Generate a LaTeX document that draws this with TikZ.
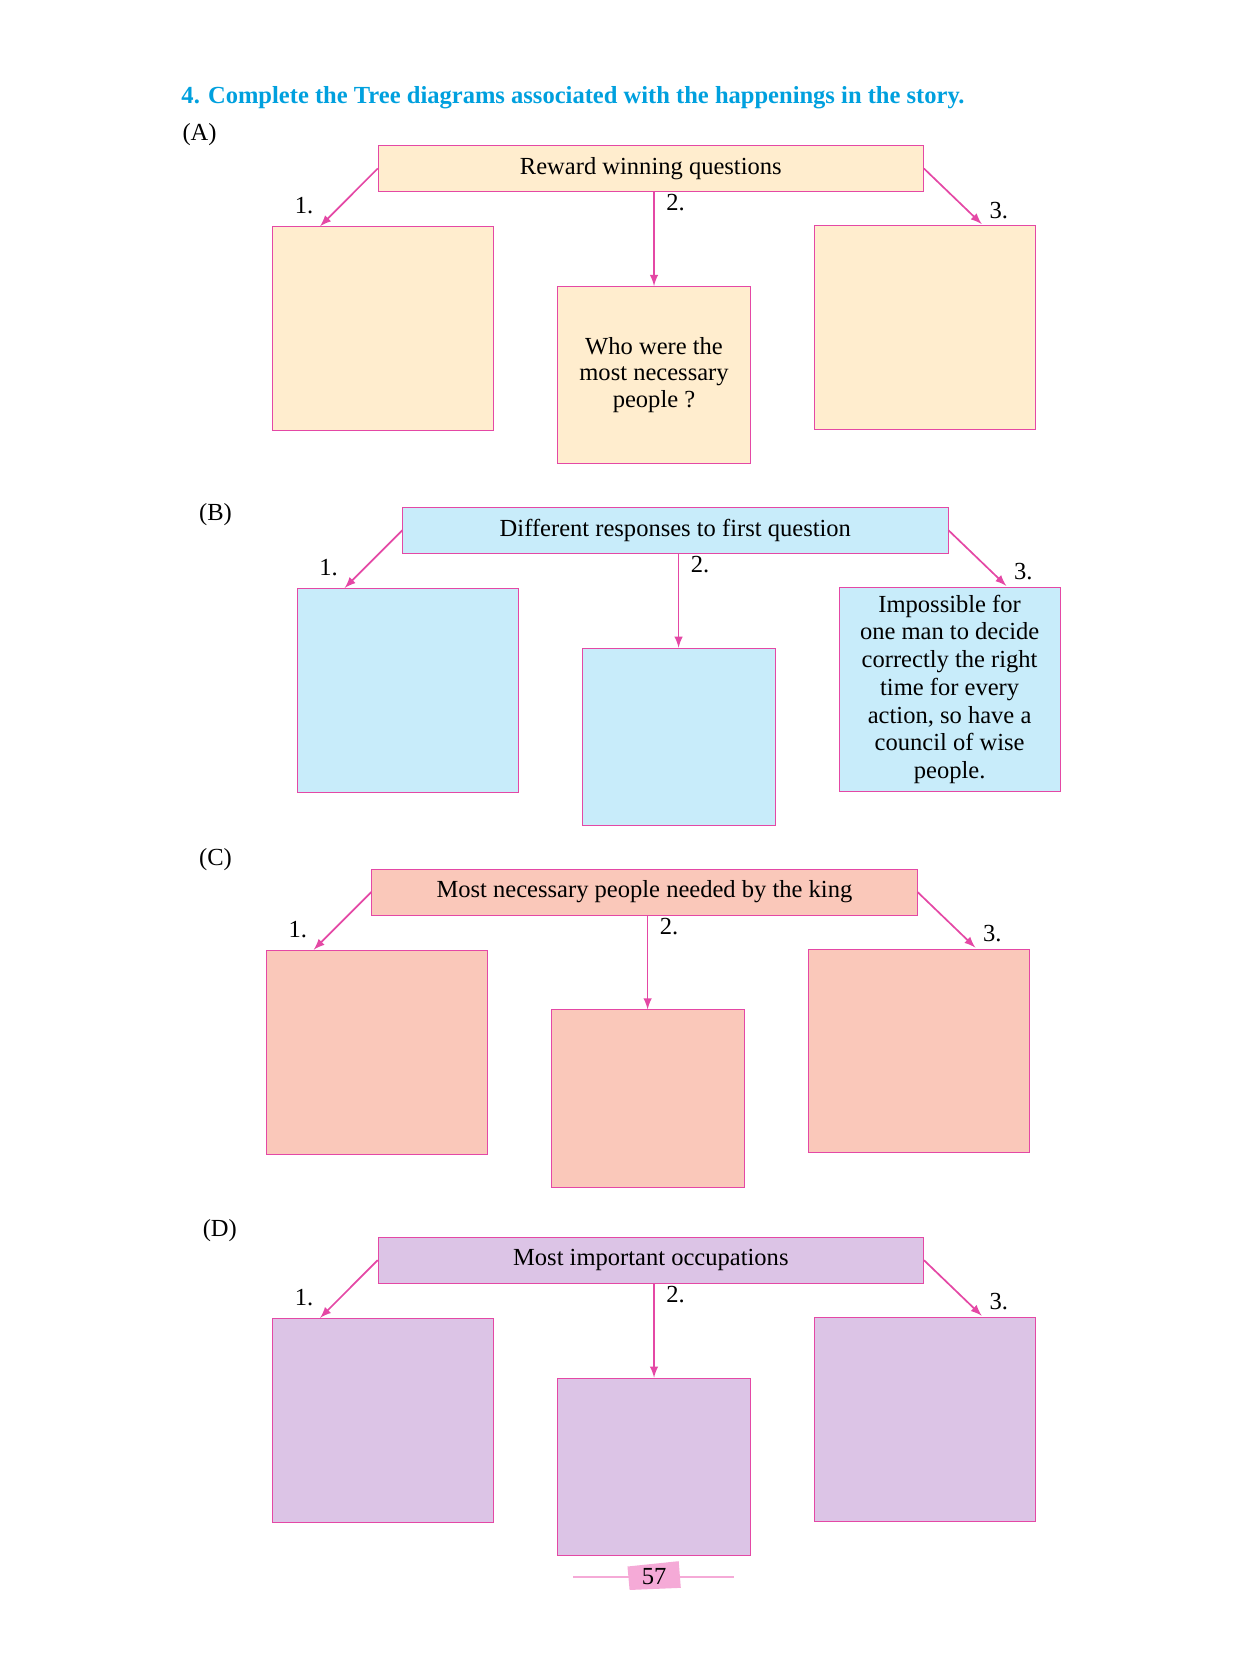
\documentclass[tikz,border=0pt]{standalone}
\usepackage{fontspec}
\setmainfont{Liberation Serif}
\usetikzlibrary{positioning}
\definecolor{edgepink}{RGB}{228,72,165}
\definecolor{titleblue}{RGB}{0,160,222}
\definecolor{fillA}{RGB}{255,237,206}
\definecolor{fillB}{RGB}{200,236,250}
\definecolor{fillC}{RGB}{250,200,186}
\definecolor{fillD}{RGB}{220,196,230}
\definecolor{tagpink}{RGB}{245,170,215}
\begin{document}
\begin{tikzpicture}[x=0.5pt, y=-0.5pt,
    every node/.style={font=\fontsize{11.5}{12.5}\selectfont},
    topbox/.style={draw=edgepink, anchor=north west, inner sep=0pt,
                   minimum width=255.5pt, minimum height=21.5pt},
    bigbox/.style={draw=edgepink, anchor=north west, inner sep=0pt,
                   minimum width=103.5pt, minimum height=95.5pt},
    midbox/.style={draw=edgepink, anchor=north west, inner sep=0pt,
                   minimum width=90.5pt, minimum height=83pt},
    link/.style={draw=edgepink, thick, ->, >=latex},
    numlabel/.style={inner sep=0pt},
]
\useasboundingbox (0,0) rectangle (1163,1550);

\node[anchor=west, font=\fontsize{11.5}{12.5}\selectfont\bfseries, text=titleblue] (title) at (163,92)
  {4. Complete the Tree diagrams associated with the happenings in the story.};

% the four tree diagrams
\foreach \dx/\dy/\col/\lab/\lx/\ly/\txt in {
    354/136/fillA/A/187/126/{Reward winning questions},
    377/475/fillB/B/202/482/{Different responses to first question},
    348/814/fillC/C/202/806/{Most necessary people needed by the king},
    354/1159/fillD/D/206/1153/{Most important occupations}}{
  \node (lab-\lab) at (\lx,\ly) {(\lab)};
  \node[topbox, fill=\col] (top-\lab) at (\dx,\dy) {\txt};
  \node[bigbox, fill=\col] (left-\lab) at (\dx-99,\dy+76) {};
  \node[midbox, fill=\col] (mid-\lab) at (\dx+168,\dy+132) {};
  \node[bigbox, fill=\col] (right-\lab) at (\dx+409,\dy+75) {};
  \draw[link] (top-\lab.west) -- (left-\lab.north west -| {\dx-54},0);
  \draw[link] (top-\lab.south -| mid-\lab.north) -- (mid-\lab.north);
  \draw[link] (top-\lab.east) -- ({\dx+566},{\dy+74});
  \node[numlabel] (one-\lab) at (\dx-69,\dy+57) {1.};
  \node[numlabel] (two-\lab) at (\dx+279,\dy+54) {2.};
  \node[numlabel] (three-\lab) at (\dx+582,\dy+61) {3.};
}

\node[align=center] (ans-A) at (mid-A) {Who were the\\most necessary\\people ?};
\node[align=center, font=\fontsize{11.5}{13}\selectfont] (ans-B) at (right-B) {Impossible for\\one man to decide\\correctly the right\\time for every\\action, so have a\\council of wise\\people.};

% page number
\draw[tagpink, line width=0.8pt] (537,1478) -- (688,1478);
\fill[tagpink] (588,1468) -- (636,1463) -- (638,1488) -- (590,1490) -- cycle;
\node (page) at (613,1477) {57};
\end{tikzpicture}
\end{document}
